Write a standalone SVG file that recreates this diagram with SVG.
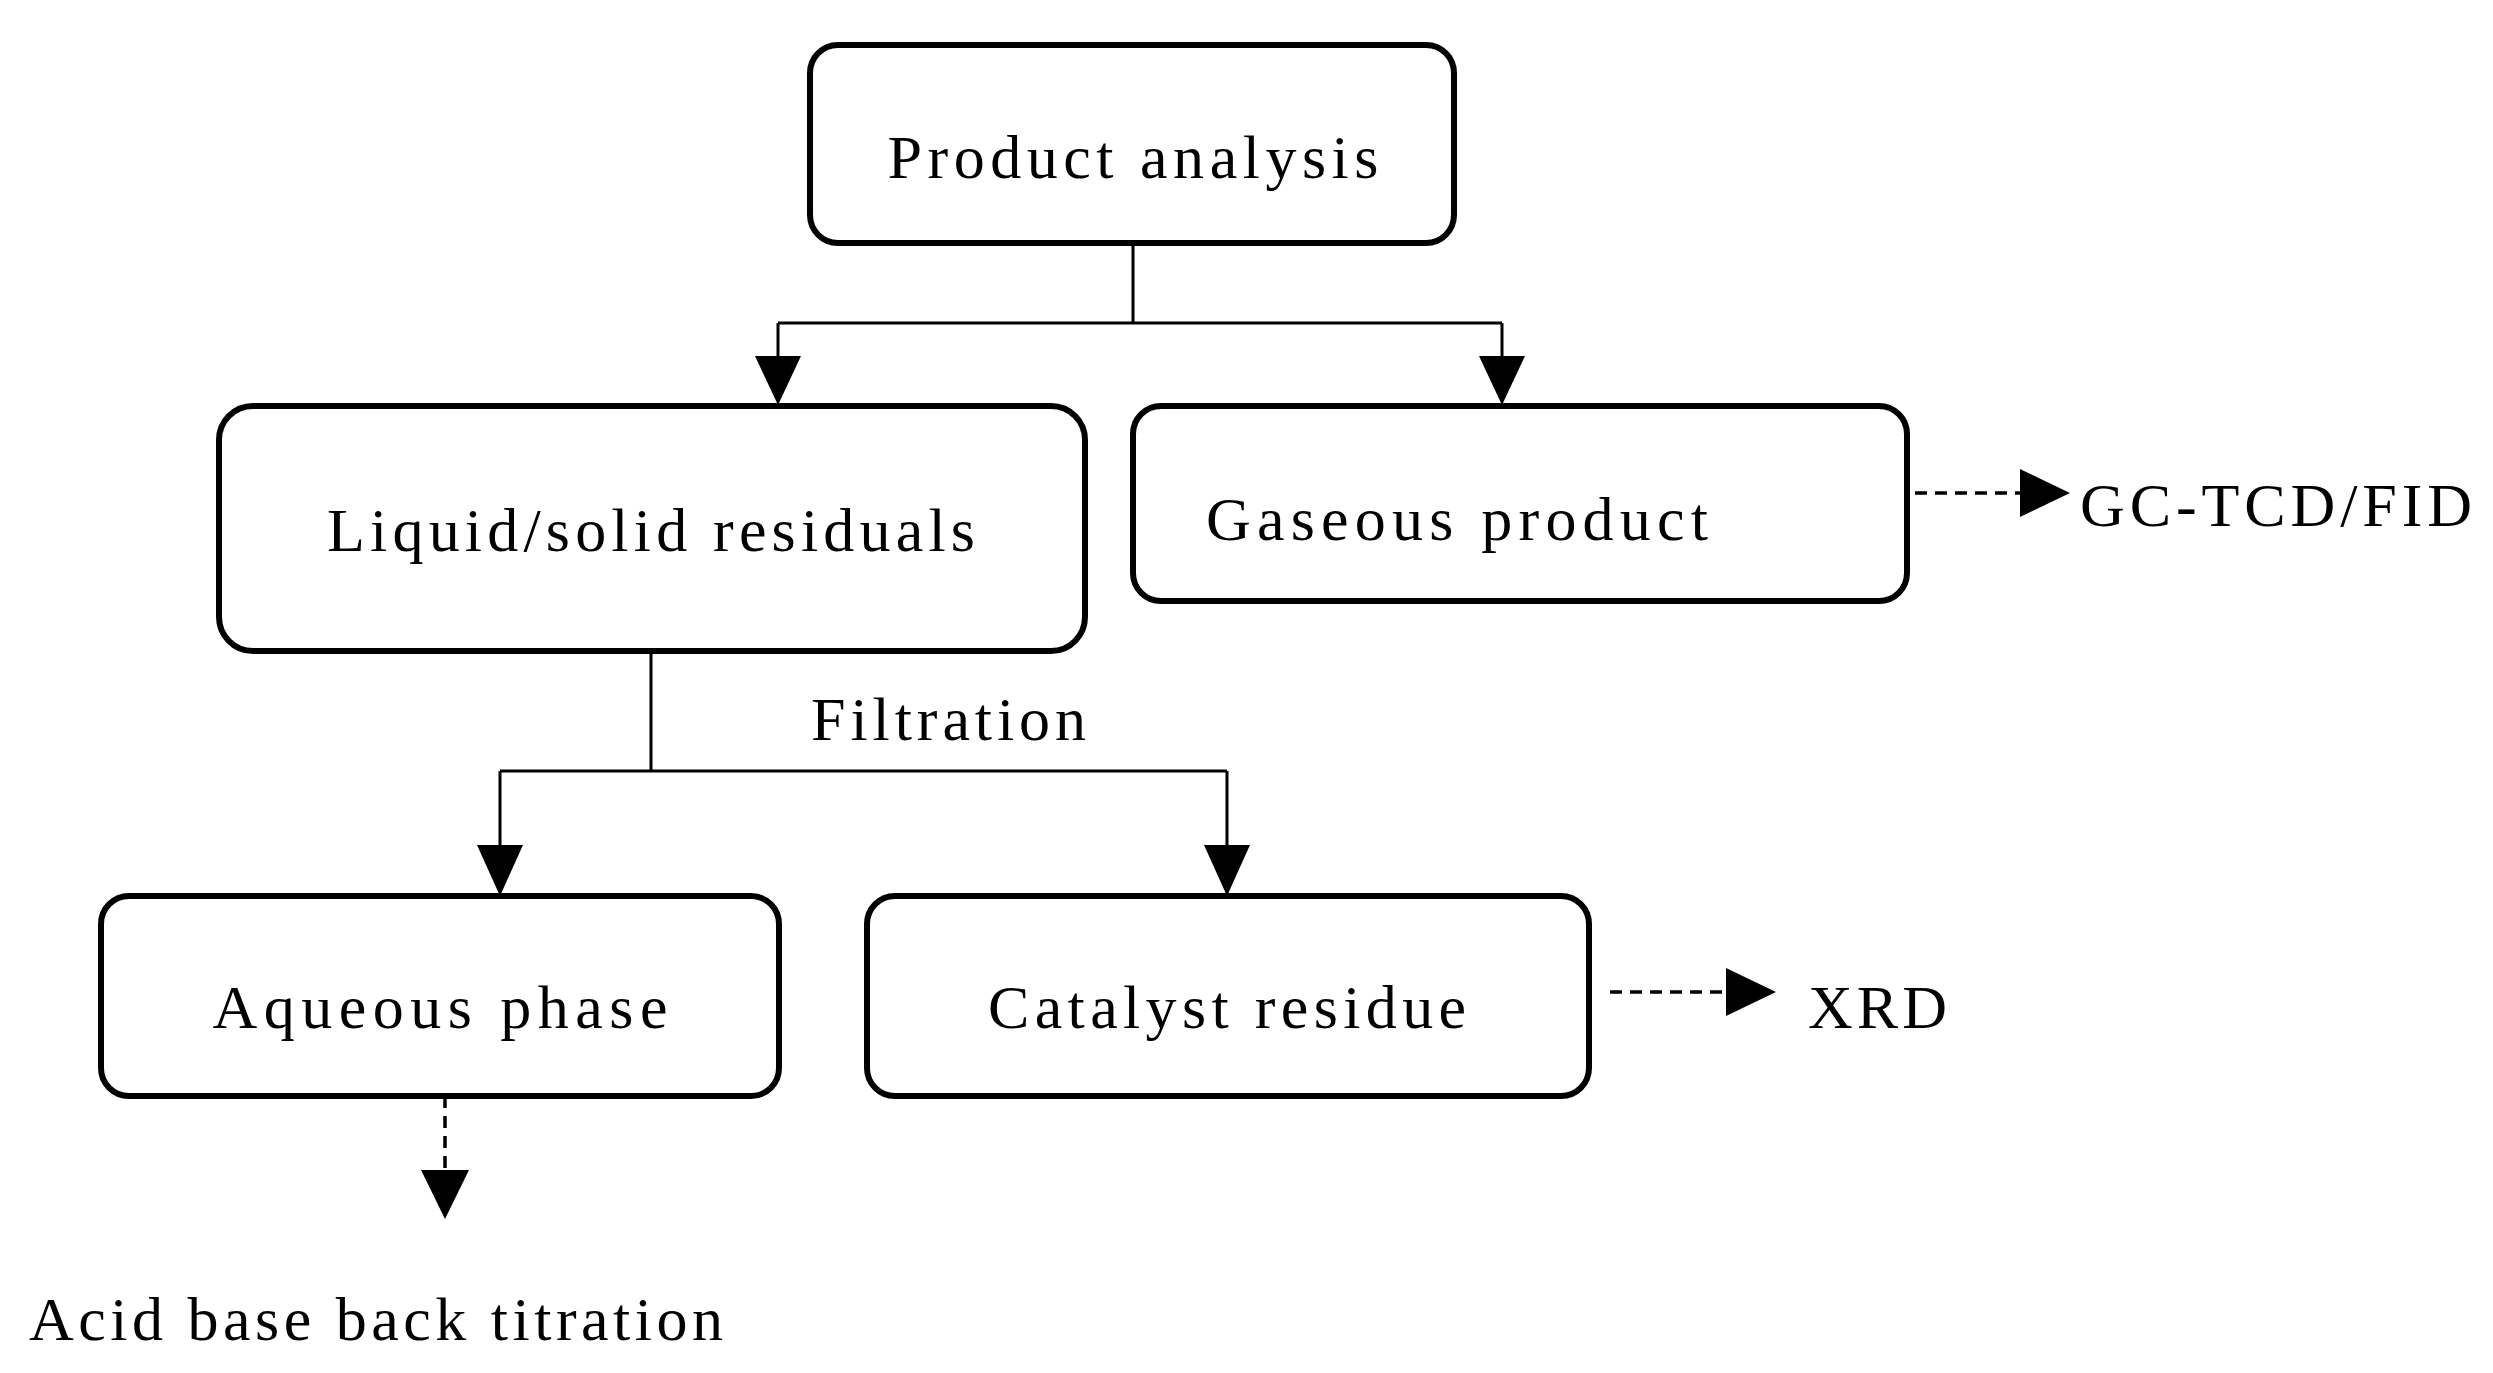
<svg xmlns="http://www.w3.org/2000/svg" width="2493" height="1373" viewBox="0 0 2493 1373">
<style>
.box{fill:#fff;stroke:#000;stroke-width:6}
.t{font-family:"Liberation Serif",serif;font-size:62px;fill:#000}
.ln{stroke:#000;stroke-width:3;fill:none}
.ds{stroke:#000;stroke-width:3.5;fill:none;stroke-dasharray:12 8}
</style>
<defs>
<marker id="ah" markerWidth="10" markerHeight="10" refX="10" refY="5" orient="auto" markerUnits="userSpaceOnUse" viewBox="0 0 10 10"><path d="M0,0 L10,5 L0,10 Z" fill="#000"/></marker>
</defs>
<rect width="2493" height="1373" fill="#fff"/>
<g id="connectors">
<path class="ln" d="M1133,243 V323 M778,323 H1502"/>
<path d="M778,323 V398" class="ln"/><path d="M755,356 L801,356 L778,405 Z"/>
<path d="M1502,323 V398" class="ln"/><path d="M1479,356 L1525,356 L1502,405 Z"/>
<path class="ln" d="M651,651 V771 M500,771 H1227 M500,771 V860 M1227,771 V860"/>
<path d="M477,845 L523,845 L500,896 Z"/><path d="M1204,845 L1250,845 L1227,896 Z"/>
<path class="ds" d="M1915,493 H2020"/><path d="M2020,469 L2070,493 L2020,517 Z"/>
<path class="ds" d="M1610,992 H1726"/><path d="M1726,968 L1776,992 L1726,1016 Z"/>
<path class="ds" d="M445,1096 V1170"/><path d="M421,1170 L469,1170 L445,1219 Z"/>
</g>
<g id="product"><rect class="box" x="810" y="45" width="644" height="198" rx="28"/><text class="t" x="1133" y="178" text-anchor="middle" textLength="491">Product analysis</text></g>
<g id="liquid"><rect class="box" x="219" y="406" width="866" height="245" rx="34"/><text class="t" x="651" y="551" text-anchor="middle" textLength="648">Liquid/solid residuals</text></g>
<g id="gaseous"><rect class="box" x="1133" y="406" width="774" height="195" rx="28"/><text class="t" x="1206" y="540" textLength="502">Gaseous product</text></g>
<g id="gc"><text class="t" x="2080" y="526" textLength="392">GC-TCD/FID</text></g>
<g id="filtration"><text class="t" x="811" y="740" textLength="275">Filtration</text></g>
<g id="aqueous"><rect class="box" x="101" y="896" width="678" height="200" rx="28"/><text class="t" x="440" y="1028" text-anchor="middle" textLength="455">Aqueous phase</text></g>
<g id="catalyst"><rect class="box" x="867" y="896" width="722" height="200" rx="28"/><text class="t" x="1227" y="1028" text-anchor="middle" textLength="478">Catalyst residue</text></g>
<g id="xrd"><text class="t" x="1808" y="1028" textLength="139">XRD</text></g>
<g id="acid"><text class="t" x="29" y="1340" textLength="694">Acid base back titration</text></g>
</svg>
